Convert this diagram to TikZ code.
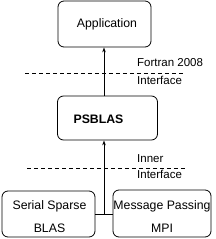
\documentclass[tikz,border=0pt]{standalone}
\usepackage{fontspec}
\setmainfont{Liberation Sans}
\usetikzlibrary{arrows.meta}
\begin{document}
\begin{tikzpicture}[x=1pt,y=-1pt,
  boxstyle/.style={draw,line width=0.8pt,rounded corners=6pt,inner sep=0pt},
  boxtext/.style={font=\fontsize{12.3}{14}\selectfont,inner sep=0pt,align=center},
  lbl/.style={font=\fontsize{11.5}{12}\selectfont,inner sep=0pt,anchor=west},
  dashline/.style={line width=0.7pt,dash pattern=on 4pt off 3pt},
  conn/.style={line width=0.8pt,-{Stealth[length=5pt,width=3.5pt]}}]
\useasboundingbox (0,0) rectangle (216,239);
% boxes
\node[boxstyle,minimum width=93pt,minimum height=46pt] (app) at (104.5,24) {};
\node[boxtext] (apptext) at (107,24) {Application};
\node[boxstyle,minimum width=100pt,minimum height=44pt] (ps) at (107.5,118) {};
\node[boxtext,font=\fontsize{12.3}{14}\selectfont\bfseries] (pstext) at (98.5,119) {PSBLAS};
\node[boxstyle,minimum width=93pt,minimum height=46pt] (sb) at (48.5,214) {};
\node[boxtext] (sbtext1) at (49.5,206) {Serial Sparse};
\node[boxtext] (sbtext2) at (49.5,228) {BLAS};
\node[boxstyle,minimum width=98pt,minimum height=47pt] (mpi) at (162,213.5) {};
\node[boxtext] (mpitext1) at (162,206) {Message Passing};
\node[boxtext] (mpitext2) at (162,228) {MPI};
% dashed interface lines
\coordinate (d1a) at (25,73);
\coordinate (d1b) at (185,73);
\coordinate (d2a) at (27,168);
\coordinate (d2b) at (185,168);
\draw[dashline] (d1a) -- (d1b);
\draw[dashline] (d2a) -- (d2b);
\node[lbl] (l1) at (137,63) {Fortran 2008};
\node[lbl] (l2) at (137,80) {Interface};
\node[lbl] (l3) at (137,159) {Inner};
\node[lbl] (l4) at (137,174) {Interface};
% connectors
\coordinate (j) at (104,214);
\draw[line width=0.8pt] (sb.east |- j) -- (mpi.west |- j);
\draw[conn] (ps.north -| j) -- (app.south -| j);
\draw[conn] (j) -- (ps.south -| j);
\end{tikzpicture}
\end{document}
